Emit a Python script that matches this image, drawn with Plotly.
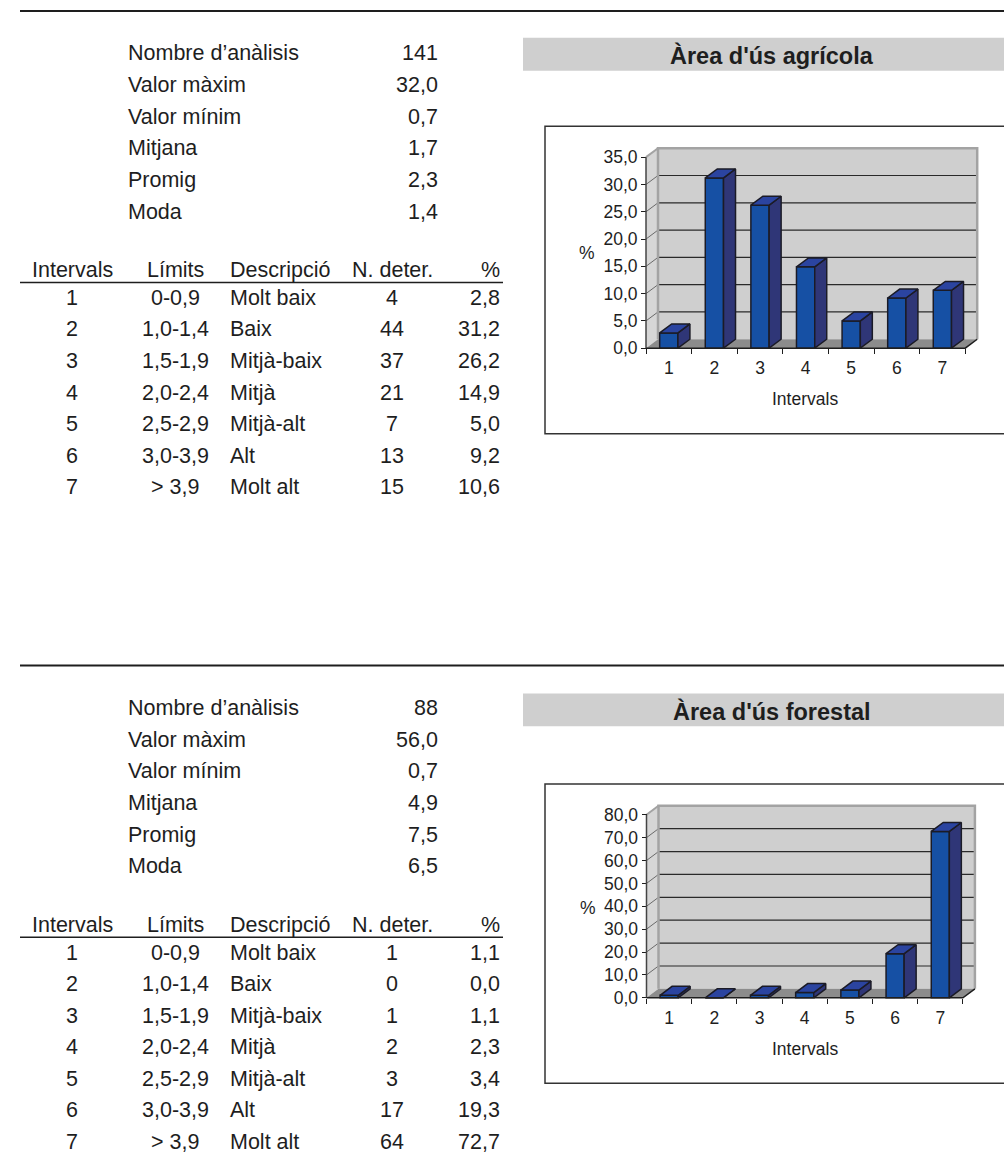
import plotly.graph_objects as go

W, H = 1004, 1160
FONT = "Liberation Sans, Arial, sans-serif"
INK = "#1e1e1e"

# ---------------- data ----------------
intervals = [1, 2, 3, 4, 5, 6, 7]
limits = ["0-0,9", "1,0-1,4", "1,5-1,9", "2,0-2,4", "2,5-2,9", "3,0-3,9", "> 3,9"]
descriptions = ["Molt baix", "Baix", "Mitjà-baix", "Mitjà", "Mitjà-alt", "Alt", "Molt alt"]
stat_labels = ["Nombre d’anàlisis", "Valor màxim", "Valor mínim", "Mitjana", "Promig", "Moda"]
table_headers = ["Intervals", "Límits", "Descripció", "N. deter.", "%"]
axis_x_title = "Intervals"
axis_y_title = "%"

agri_title = "Àrea d'ús agrícola"
agri_stats = ["141", "32,0", "0,7", "1,7", "2,3", "1,4"]
agri_counts = [4, 44, 37, 21, 7, 13, 15]
agri_pct = [2.8, 31.2, 26.2, 14.9, 5.0, 9.2, 10.6]
agri_yticks = [0, 5, 10, 15, 20, 25, 30, 35]

forest_title = "Àrea d'ús forestal"
forest_stats = ["88", "56,0", "0,7", "4,9", "7,5", "6,5"]
forest_counts = [1, 0, 1, 2, 3, 17, 64]
forest_pct = [1.1, 0.0, 1.1, 2.3, 3.4, 19.3, 72.7]
forest_yticks = [0, 10, 20, 30, 40, 50, 60, 70, 80]

# ---------------- styling ----------------
FRONT = "#1650a4"
SIDE = "#2f3677"
TOP = "#2b44a0"
EDGE = "#1b1b26"
WALL = "#cfcfcf"
SIDEWALL = "#d6d6d6"
WALL_EDGE = "#a3a3a3"
FLOOR = "#8c8c8c"
GRID = "#2a2a2a"
DX, DY = 12, 9          # depth of the 3-D effect in pixels
PAD = 4                 # padding around the plotting area in pixels
BAR_W = 0.4
TEXT_NUDGE = 1.5        # baseline correction for annotation text


def fx(p):
    return p / W


def fy(p):
    return 1 - p / H


def dec(v):
    return f"{v:.1f}".replace(".", ",")


fig = go.Figure()
shapes = []
annotations = []


def text(x, y, s, size=21.5, anchor="left", bold=False):
    annotations.append(dict(
        xref="paper", yref="paper", x=fx(x), y=fy(y + TEXT_NUDGE),
        text=f"<b>{s}</b>" if bold else s, showarrow=False,
        xanchor=anchor, yanchor="middle", borderpad=0, borderwidth=0,
        font=dict(family=FONT, size=size, color=INK)))


def hline(x0, x1, y, w):
    shapes.append(dict(type="line", xref="paper", yref="paper",
                       x0=fx(x0), x1=fx(x1), y0=fy(y), y1=fy(y),
                       line=dict(color=INK, width=w)))


def table_block(top, stats, counts, pct):
    hline(20, 1004, top + 11, 2)
    for i, (lab, val) in enumerate(zip(stat_labels, stats)):
        y = top + 52 + i * 31.9
        text(128, y, lab)
        text(438, y, val, anchor="right")
    hy = top + 270
    cols = [(72, "center"), (175, "center"), (230, "left"), (392, "center"), (500, "right")]
    for (cx, an), h in zip(cols, table_headers):
        text(cx, hy, h, anchor=an)
    hline(20, 503, top + 284, 1.5)
    for i in range(len(intervals)):
        y = top + 298 + i * 31.7
        row = [str(intervals[i]), limits[i], descriptions[i], str(counts[i]), dec(pct[i])]
        for (cx, an), s in zip(cols, row):
            text(cx, y, s, anchor=an)


def chart(idx, title, pct, yticks, g):
    xname = "x" if idx == 1 else f"x{idx}"
    yname = "y" if idx == 1 else f"y{idx}"
    cw, ppu, x0, y0 = g["cw"], g["ppu"], g["x0"], g["y0"]
    dxu, dyu = DX / cw, DY / ppu
    ymax = yticks[-1]
    xl, xr = 0.5, len(intervals) + 0.5

    # title band
    shapes.append(dict(type="rect", xref="paper", yref="paper", layer="below",
                       x0=fx(523), x1=fx(1006), y0=fy(g["band"][0]), y1=fy(g["band"][1]),
                       fillcolor="#cfcfcf", line=dict(width=0)))
    text(772, (g["band"][0] + g["band"][1]) / 2, title, size=23.5, anchor="center", bold=True)

    # chart frame
    shapes.append(dict(type="rect", xref="paper", yref="paper", layer="below",
                       x0=fx(545), x1=fx(1010), y0=fy(g["box"][0]), y1=fy(g["box"][1]),
                       fillcolor="rgba(0,0,0,0)", line=dict(color="#333333", width=1.5)))

    def dshape(path=None, **kw):
        d = dict(xref=xname, yref=yname, **kw)
        if path is not None:
            d.update(type="path", path=path)
        shapes.append(d)

    def P(pts, close=True):
        s = "M " + " L ".join(f"{a},{b}" for a, b in pts)
        return s + (" Z" if close else "")

    # side wall, back wall and floor
    dshape(P([(xl, 0), (xl, ymax), (xl + dxu, ymax + dyu), (xl + dxu, dyu)]),
           layer="below", fillcolor=SIDEWALL, line=dict(width=0))
    dshape(P([(xl + dxu, dyu), (xr + dxu, dyu), (xr + dxu, ymax + dyu), (xl + dxu, ymax + dyu)]),
           layer="below", fillcolor=WALL, line=dict(width=0))
    # gridlines wrapping the side wall and the back wall
    for v in yticks[1:-1]:
        dshape(P([(xl, v), (xl + dxu, v + dyu)], close=False), layer="below",
               line=dict(color="#6a6a6a", width=1))
        dshape(P([(xl + dxu, v + dyu), (xr + dxu, v + dyu)], close=False), layer="below",
               line=dict(color=GRID, width=1.2))
    # wall borders
    dshape(P([(xl + dxu, dyu), (xl + dxu, ymax + dyu), (xr + dxu, ymax + dyu), (xr + dxu, dyu)], close=False),
           layer="below", line=dict(color=WALL_EDGE, width=2.5))
    dshape(P([(xl, ymax), (xl + dxu, ymax + dyu)], close=False), layer="below",
           line=dict(color=WALL_EDGE, width=2))
    dshape(P([(xl, 0), (xr, 0), (xr + dxu, dyu), (xl + dxu, dyu)]),
           layer="below", fillcolor=FLOOR, line=dict(width=0))
    # front axis lines
    dshape(P([(xl, 0), (xl, ymax)], close=False), layer="above", line=dict(color="#444444", width=1.5))
    dshape(P([(xl, 0), (xr, 0), (xr + dxu, dyu)], close=False), layer="above",
           line=dict(color=INK, width=1.5))

    # front faces of the columns
    fig.add_trace(go.Bar(x=intervals, y=pct, width=BAR_W, xaxis=xname, yaxis=yname,
                         marker=dict(color=FRONT, line=dict(color=EDGE, width=1.5)),
                         hoverinfo="skip"))
    # side and top faces
    sx, sy, tx, ty = [], [], [], []
    for c, v in zip(intervals, pct):
        l, r = c - BAR_W / 2, c + BAR_W / 2
        sx += [r, r, r + dxu, r + dxu, r, None]
        sy += [0, v, v + dyu, dyu, 0, None]
        tx += [l, r, r + dxu, l + dxu, l, None]
        ty += [v, v, v + dyu, v + dyu, v, None]
    fig.add_trace(go.Scatter(x=sx, y=sy, mode="lines", fill="toself", fillcolor=SIDE,
                             line=dict(color=EDGE, width=1.5), xaxis=xname, yaxis=yname,
                             hoverinfo="skip"))
    fig.add_trace(go.Scatter(x=tx, y=ty, mode="lines", fill="toself", fillcolor=TOP,
                             line=dict(color=EDGE, width=1.5), xaxis=xname, yaxis=yname,
                             hoverinfo="skip"))

    ax_font = dict(family=FONT, size=17.5, color=INK)
    xkey = "xaxis" if idx == 1 else f"xaxis{idx}"
    ykey = "yaxis" if idx == 1 else f"yaxis{idx}"
    fig.update_layout(**{
        xkey: dict(
            domain=[fx(x0 - PAD), fx(x0 + len(intervals) * cw + DX + PAD)],
            range=[xl - PAD / cw, xr + dxu + PAD / cw],
            anchor="free", position=fy(y0),
            tickmode="array", tickvals=intervals, ticktext=[str(i) for i in intervals],
            ticks="outside", ticklen=4, tickcolor="rgba(0,0,0,0)",
            minor=dict(tickmode="linear", tick0=0.5, dtick=1, ticks="outside",
                       ticklen=5, tickwidth=1, tickcolor=INK, showgrid=False),
            showgrid=False, zeroline=False, showline=False, tickfont=ax_font,
            fixedrange=True),
        ykey: dict(
            domain=[fy(y0 + PAD), fy(y0 - ymax * ppu - DY - PAD)],
            range=[-PAD / ppu, ymax + dyu + PAD / ppu],
            anchor="free", position=fx(x0),
            tickmode="array", tickvals=yticks, ticktext=[dec(v) for v in yticks],
            ticks="outside", ticklen=5, tickwidth=1, tickcolor=INK,
            showgrid=False, zeroline=False, showline=False, tickfont=ax_font,
            fixedrange=True),
    })
    text(g["pct_lab"][0], g["pct_lab"][1], axis_y_title, size=17.5, anchor="center")
    text(805, g["xt_y"], axis_x_title, size=17.5, anchor="center")


table_block(0, agri_stats, agri_counts, agri_pct)
table_block(658, forest_stats, forest_counts, forest_pct)

chart(1, agri_title, agri_pct, agri_yticks,
      dict(band=(38, 71), box=(127, 436), x0=646, cw=45.6, y0=350, ppu=5.486,
           pct_lab=(587, 253), xt_y=400))
chart(2, forest_title, forest_pct, forest_yticks,
      dict(band=(697, 730), box=(788, 1089), x0=646.5, cw=45.2, y0=1003, ppu=2.3,
           pct_lab=(588, 911), xt_y=1053))

fig.update_layout(
    width=W, height=H, margin=dict(l=0, r=0, t=0, b=0),
    paper_bgcolor="white", plot_bgcolor="rgba(0,0,0,0)",
    showlegend=False, hovermode=False, barmode="overlay",
    shapes=shapes, annotations=annotations,
)

fig.write_html("out.html")
